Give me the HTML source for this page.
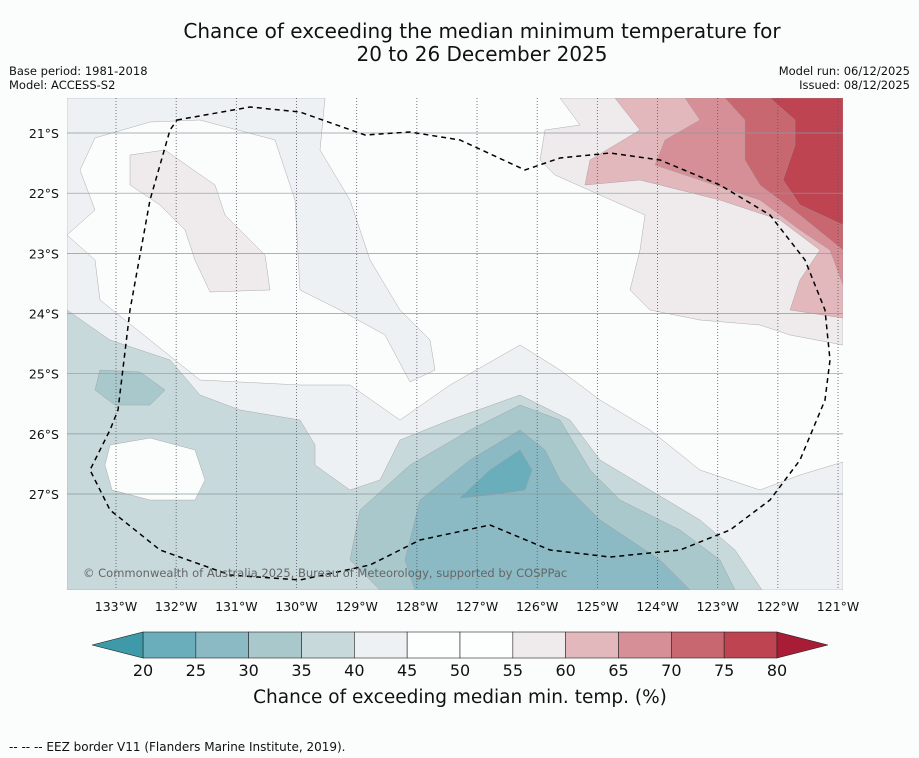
<!DOCTYPE html>
<html><head><meta charset="utf-8"><style>
body{margin:0;background:#fbfdfd;font-family:"DejaVu Sans","Liberation Sans",sans-serif;}
svg{display:block;font-family:"DejaVu Sans","Liberation Sans",sans-serif;}
</style></head><body>
<svg id="chart" width="919" height="758" viewBox="0 0 919 758">
<rect width="919" height="758" fill="#fbfdfd"/>
<text x="482" y="38" font-size="20" text-anchor="middle" fill="#111">Chance of exceeding the median minimum temperature for</text>
<text x="482" y="61" font-size="20" text-anchor="middle" fill="#111">20 to 26 December 2025</text>
<text x="9" y="75" font-size="11.5" fill="#111">Base period: 1981-2018</text>
<text x="9" y="89" font-size="11.5" fill="#111">Model: ACCESS-S2</text>
<text x="910" y="75" font-size="11.5" text-anchor="end" fill="#111">Model run: 06/12/2025</text>
<text x="910" y="89" font-size="11.5" text-anchor="end" fill="#111">Issued: 08/12/2025</text>
<defs><clipPath id="mapclip"><rect x="67" y="98" width="776" height="492"/></clipPath></defs>
<g id="map" clip-path="url(#mapclip)">
<rect x="67" y="98" width="776" height="492" fill="#fbfdfd"/>
<g stroke="#999" stroke-width="0.4">
<path fill="#edf1f3" d="M67,98 L325,98 L320,150 L350,200 L370,260 L400,310 L430,340 L435,370 L410,382 L385,335 L340,310 L300,290 L295,200 L275,140 L200,120 L150,122 L95,138 L80,170 L95,210 L67,235 Z"/>
<path fill="#edf1f3" d="M67,235 L95,260 L100,300 L150,340 L200,380 L300,385 L350,385 L400,420 L450,385 L520,345 L560,370 L600,400 L650,430 L700,470 L760,490 L800,475 L843,462 L843,590 L67,590 Z"/>
<path fill="#efebec" d="M130,155 L165,150 L215,185 L225,215 L265,255 L270,290 L210,292 L195,260 L185,230 L160,205 L130,185 Z"/>
<path fill="#efebec" d="M560,98 L843,98 L843,345 L790,335 L760,325 L700,320 L650,310 L630,290 L640,250 L645,215 L600,195 L555,175 L540,160 L545,130 L580,125 Z"/>
<path fill="#e2b8bc" d="M615,98 L843,98 L843,318 L790,310 L800,280 L820,250 L780,220 L720,200 L640,180 L585,185 L590,160 L640,130 Z"/>
<path fill="#d68f96" d="M685,98 L843,98 L843,285 L830,250 L800,230 L760,200 L700,180 L655,165 L665,140 L700,120 Z"/>
<path fill="#c96770" d="M725,98 L843,98 L843,250 L800,215 L760,185 L745,160 L745,120 Z"/>
<path fill="#bf4452" d="M770,98 L843,98 L843,225 L800,205 L783,180 L795,145 L795,120 Z"/>
<path fill="#c8d9dc" d="M67,310 L110,340 L170,360 L200,395 L240,410 L300,420 L315,445 L315,465 L350,490 L380,480 L400,440 L450,420 L520,395 L570,420 L600,460 L650,490 L700,520 L735,550 L762,590 L67,590 Z"/>
<path fill="#fbfdfd" d="M110,445 L150,438 L195,450 L205,480 L195,500 L150,500 L112,490 L105,465 Z"/>
<path fill="#a8c8cc" d="M100,370 L140,372 L165,390 L150,405 L115,405 L95,390 Z"/>
<path fill="#a8c8cc" d="M380,590 L350,560 L360,510 L410,465 L470,430 L520,405 L560,420 L590,470 L620,500 L680,530 L720,560 L735,590 Z"/>
<path fill="#8bbac4" d="M415,590 L405,560 L420,500 L470,460 L520,430 L545,450 L560,480 L600,520 L660,560 L690,590 Z"/>
<path fill="#6aaebb" d="M460,498 L490,470 L520,450 L532,470 L525,490 L490,495 Z"/>
</g>
<g id="grid"></g>
<path id="eez" fill="none" stroke="#000" stroke-width="1.5" stroke-dasharray="5,4" d="M177,120 L250,107 L300,112 L365,135 L410,132 L460,140 L525,170 L560,158 L610,153 L660,160 L720,185 L770,215 L805,260 L825,310 L830,360 L825,400 L800,460 L770,500 L730,530 L680,550 L610,557 L550,550 L490,525 L420,540 L370,565 L300,580 L230,575 L160,550 L110,510 L90,470 L110,430 L118,410 L130,310 L150,200 L170,130 Z"/>
<text x="83" y="577" font-size="11.5" fill="#666">© Commonwealth of Australia 2025, Bureau of Meteorology, supported by COSPPac</text>
</g>
<g id="ticks"></g>
<g id="colorbar"></g>
<text x="460" y="703" font-size="18.5" text-anchor="middle" fill="#111">Chance of exceeding median min. temp. (%)</text>
<text x="9" y="751" font-size="12" fill="#111">-- -- -- EEZ border V11 (Flanders Marine Institute, 2019).</text>
</svg>
<script>
const lonTicks=[133,132,131,130,129,128,127,126,125,124,123,122,121];
const latTicks=[21,22,23,24,25,26,27];
const levels=[20,25,30,35,40,45,50,55,60,65,70,75,80];
const levelColors=["#6aaebb","#8bbac4","#a8c8cc","#c8d9dc","#edf1f3","#fdfefe","#fdfefe","#efebec","#e2b8bc","#d68f96","#c96770","#bf4452"];
const extendLow="#3e9aa8", extendHigh="#a81c36";
const NS="http://www.w3.org/2000/svg";
const xLon=w=>116+(133-w)*60.17;
const yLat=s=>133+(s-21)*60.17;
const xLev=v=>143+(v-20)*(777-143)/60;
function mk(tag,attrs,parent){const e=document.createElementNS(NS,tag);for(const k in attrs)e.setAttribute(k,attrs[k]);parent.appendChild(e);return e;}
const grid=document.getElementById('grid'), ticks=document.getElementById('ticks'), cb=document.getElementById('colorbar');
lonTicks.forEach(w=>{
 const x=xLon(w);
 const l=mk('line',{x1:x,x2:x,y1:98,y2:590,stroke:'#556',"stroke-width":0.8,"stroke-dasharray":"1,2"},grid);
 
 
 const t=mk('text',{x:x,y:611,"font-size":12.5,"text-anchor":"middle",fill:"#111"},ticks);
 t.textContent=w+'°W';
 
 
});
latTicks.forEach(s=>{
 const y=yLat(s);
 const l=mk('line',{x1:67,x2:843,y1:y,y2:y,stroke:'#8a9aa0',"stroke-width":0.7},grid);
 
 
 const t=mk('text',{x:59,y:y+5,"font-size":12.5,"text-anchor":"end",fill:"#111"},ticks);
 t.textContent=s+'°S';
 
 
});
levelColors.forEach((c,i)=>{
 const x0=xLev(levels[i]),x1=xLev(levels[i+1]);
 const r=mk('rect',{x:x0,y:632,width:x1-x0,height:26,fill:c,stroke:'#222',"stroke-width":0.6},cb);
 
 
});
const lo=mk('polygon',{points:`${xLev(20)},632 ${xLev(20)},658 92,645`,fill:extendLow,stroke:'#222',"stroke-width":0.6},cb);


const hi=mk('polygon',{points:`${xLev(80)},632 ${xLev(80)},658 828,645`,fill:extendHigh,stroke:'#222',"stroke-width":0.6},cb);


levels.forEach(v=>{
 const t=mk('text',{x:xLev(v),y:676,"font-size":16,"text-anchor":"middle",fill:"#111"},cb);
 t.textContent=v;
 
 
});
</script>
</body></html>
